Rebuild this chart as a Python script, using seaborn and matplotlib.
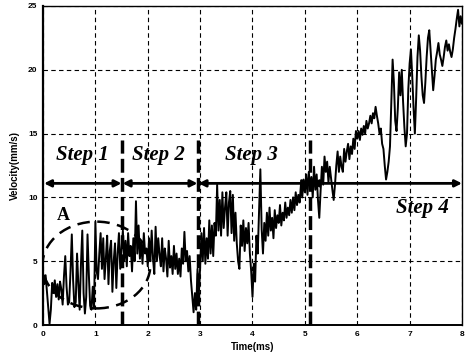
import numpy as np
import pandas as pd
import matplotlib
matplotlib.use("Agg")
import matplotlib.pyplot as plt
from matplotlib.patches import Ellipse
import seaborn as sns

t_start, t_end = 0.0, 8.0
velocity = [
    # 0.0 - 0.475
    4.0, 3.2, 3.9, 2.6, 1.4, 0.1, 1.2, 3.3, 2.5, 3.5, 2.2, 3.2, 2.0, 3.4, 2.8, 1.6, 3.8, 5.4, 3.0, 1.6,
    # 0.5 - 0.975
    1.8, 4.2, 7.1, 3.5, 1.4, 1.8, 5.6, 3.2, 1.2, 4.8, 7.4, 2.5, 0.9, 2.2, 7.1, 4.0, 1.5, 1.2, 3.0, 1.4,
    # 1.0 - 1.475
    8.1, 4.2, 3.6, 5.6, 7.2, 4.4, 6.8, 3.6, 5.2, 7.0, 3.2, 5.8, 6.6, 2.6, 5.0, 6.4, 2.9, 5.6, 7.2, 4.4,
    # 1.5 - 1.975
    6.0, 7.4, 5.0, 6.6, 4.6, 7.2, 5.4, 6.2, 4.2, 6.8, 5.0, 9.7, 5.6, 7.8, 5.2, 6.5, 4.8, 7.2, 5.6, 6.0,
    # 2.0 - 2.475
    4.6, 6.8, 5.0, 7.4, 5.2, 4.0, 7.7, 5.0, 6.8, 5.5, 4.6, 6.8, 4.2, 6.0, 5.2, 3.8, 6.6, 4.5, 5.4, 4.0,
    # 2.5 - 2.975
    6.2, 4.4, 5.6, 4.0, 5.2, 3.8, 6.0, 4.8, 7.3, 5.0, 5.8, 4.2, 5.4, 3.5, 2.2, 1.0, 2.5, 1.2, 4.4, 2.4,
    # 3.0 - 3.475
    4.5, 7.2, 5.0, 7.6, 4.8, 6.8, 5.2, 8.2, 5.6, 7.8, 5.4, 8.0, 7.0, 11.0, 7.4, 9.8, 7.0, 10.4, 7.6, 9.2,
    # 3.5 - 3.975
    10.4, 7.0, 9.6, 10.5, 7.2, 10.2, 6.6, 8.8, 6.4, 5.0, 4.4, 7.8, 6.2, 8.2, 5.8, 7.6, 6.4, 8.0, 5.6, 4.2,
    # 4.0 - 4.475
    2.2, 4.8, 3.4, 7.0, 5.6, 9.0, 12.2, 7.5, 5.6, 8.0, 6.6, 8.8, 7.0, 9.2, 7.4, 8.4, 6.8, 9.0, 7.6, 8.6,
    # 4.5 - 4.975
    8.0, 9.4, 7.8, 8.8, 8.2, 9.6, 8.4, 9.2, 8.6, 9.8, 8.8, 10.0, 9.0, 10.4, 9.4, 10.2, 9.6, 11.0, 10.0, 11.4,
    # 5.0 - 5.475
    10.4, 11.8, 10.2, 12.0, 10.8, 11.6, 10.0, 12.4, 10.6, 11.8, 9.8, 8.4, 10.5, 12.4, 11.0, 13.2, 12.0, 12.8, 11.2, 12.4,
    # 5.5 - 5.975
    11.5, 10.6, 9.8, 11.0, 12.5, 13.6, 12.0, 13.2, 12.4, 12.0, 13.8, 12.8, 13.6, 14.2, 13.0, 14.0, 13.4, 14.6, 13.8, 15.2,
    # 6.0 - 6.475
    14.6, 15.2, 14.5, 15.4, 14.9, 15.6, 15.0, 16.0, 15.4, 15.8, 16.4, 15.8, 16.6, 16.2, 17.1, 16.4, 15.8, 15.0, 15.4, 14.2,
    # 6.5 - 6.975
    13.8, 12.5, 11.4, 12.0, 12.8, 14.0, 17.5, 20.8, 19.0, 16.0, 15.2, 17.0, 19.8, 18.0, 20.0, 17.5, 15.5, 14.0, 15.0, 18.5,
    # 7.0 - 7.475
    20.5, 21.6, 19.5, 17.0, 15.0, 17.8, 21.0, 22.7, 21.5, 19.5, 18.0, 17.4, 19.0, 21.0, 22.5, 23.1, 21.5, 19.8, 18.4, 19.5,
    # 7.5 - 7.975
    20.8, 21.4, 22.1, 21.2, 20.8, 20.3, 21.0, 21.8, 22.3, 21.5, 22.0, 21.4, 21.0, 21.6, 22.5, 23.2, 24.0, 24.7, 23.4, 24.2,
    # 8.0
    23.6,
]
time = np.linspace(t_start, t_end, len(velocity))

x_ticks = [0, 1, 2, 3, 4, 5, 6, 7, 8]
y_ticks = [0, 5, 10, 15, 20, 25]
step_bounds = [0.0, 1.5, 2.95, 5.1, 8.0]
step_labels = ["Step 1", "Step 2", "Step 3", "Step 4"]
step_label_pos = [(0.75, 13.3), (2.21, 13.3), (3.98, 13.3), (7.25, 9.2)]
step_line_top = 14.5
arrow_level = 11.1
ellipse_center = (1.02, 4.7)
ellipse_size = (2.06, 6.8)

df = pd.DataFrame({"Time(ms)": time, "Velocity(mm/s)": velocity})

# ---- figure ----
sns.set_style("white")
plt.rcParams["font.family"] = ["Liberation Sans", "DejaVu Sans"]
plt.rcParams["text.color"] = "black"
plt.rcParams["axes.labelcolor"] = "black"
plt.rcParams["xtick.color"] = "black"
plt.rcParams["ytick.color"] = "black"

fig = plt.figure(figsize=(4.66, 3.53), dpi=100)
ax = fig.add_axes([43 / 466, 1 - 325 / 353, (462 - 43) / 466, (325 - 6) / 353])

sns.lineplot(data=df, x="Time(ms)", y="Velocity(mm/s)", ax=ax,
             color="black", lw=1.4, zorder=3)

ax.set_xlim(0, 8)
ax.set_ylim(0, 25)
ax.set_xticks(x_ticks)
ax.set_yticks(y_ticks)
ax.set_xticklabels([str(v) for v in x_ticks], fontsize=6, fontweight="bold")
ax.set_yticklabels([str(v) for v in y_ticks], fontsize=6, fontweight="bold")
ax.tick_params(direction="in", length=3, width=0.8, pad=4, colors="black")

ax.grid(True, color="black", lw=0.8, linestyle=(0, (4, 3)))
ax.set_axisbelow(True)

for side, lw in [("left", 1.6), ("bottom", 1.4), ("top", 1.0), ("right", 1.0)]:
    ax.spines[side].set_color("black")
    ax.spines[side].set_linewidth(lw)

ax.set_xlabel("Time(ms)", fontsize=7, fontweight="bold", labelpad=3, color="black")
ax.set_ylabel("Velocity(mm/s)", fontsize=7, fontweight="bold", labelpad=6, color="black")

# step boundaries (thick dashed)
for xb in step_bounds[1:-1]:
    ax.plot([xb, xb], [0, step_line_top], color="black", lw=2.5,
            linestyle=(0, (4, 1.5)), zorder=4)

# double arrows
for x0, x1 in zip(step_bounds[:-1], step_bounds[1:]):
    ax.annotate("", xy=(x1, arrow_level), xytext=(x0 + 0.02, arrow_level),
                arrowprops=dict(arrowstyle="<|-|>", lw=2.0, color="black",
                                mutation_scale=10, shrinkA=0, shrinkB=0),
                zorder=5)

# step labels
for lab, (xs, ys) in zip(step_labels, step_label_pos):
    ax.text(xs, ys, lab, fontsize=15, fontweight="bold", fontstyle="italic",
            family=["Liberation Serif", "DejaVu Serif"], ha="center", va="center",
            color="black", zorder=6)

# ellipse "A"
ax.add_patch(Ellipse(ellipse_center, ellipse_size[0], ellipse_size[1], fill=False,
                     edgecolor="black", lw=1.8, linestyle=(0, (5, 3)), zorder=5))
ax.text(0.38, 8.6, "A", fontsize=13, fontweight="bold", color="black",
        family=["Liberation Serif", "DejaVu Serif"], ha="center", va="center", zorder=6)

fig.savefig("out.png", dpi=100)
